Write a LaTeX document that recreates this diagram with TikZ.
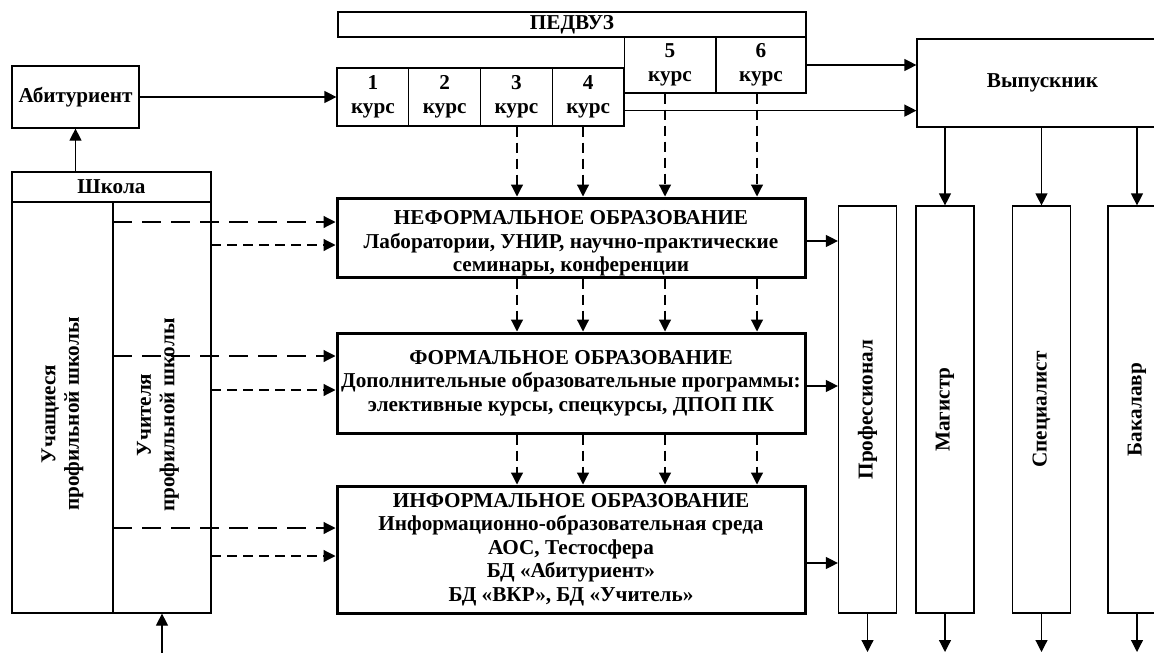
\documentclass[tikz,border=0pt]{standalone}
\usepackage{fontspec}
\setmainfont{Liberation Serif}
\usetikzlibrary{arrows.meta}

\begin{document}
\begin{tikzpicture}[
    x=1pt, y=-1pt,
    font=\fontsize{21.2}{23.5}\selectfont\bfseries,
    box/.style={draw=black, line width=1.2pt, inner sep=0pt, align=center},
    bigbox/.style={box, line width=3pt},
    arr/.style={line width=1.2pt, -{Triangle[length=12pt,width=12pt]}},
    ldash/.style={arr, dash pattern=on 19pt off 10pt},
    sdash/.style={arr, dash pattern=on 10pt off 6pt}
]
    \useasboundingbox (0,0) rectangle (1154,653);

    % педвуз и курсы
    \node[box, minimum width=468, minimum height=25] (vuz) at (572,24.5) {ПЕДВУЗ};
    \foreach \k in {1,...,4} {
        \node[box, minimum width=71.75, minimum height=58] (k\k) at ({337+71.75*(\k-0.5)},97) {\k\\курс};
    }
    \node[box, minimum width=91, minimum height=56] (k5) at (670,65) {5\\курс};
    \node[box, minimum width=90, minimum height=56] (k6) at (761,65) {6\\курс};

    \node[box, minimum width=127, minimum height=62] (abit) at (75.5,97) {Абитуриент};
    \node[box, minimum width=251, minimum height=88] (vyp) at (1042.5,83) {Выпускник};

    % школа
    \node[box, minimum width=199, minimum height=441] (shkola) at (111.5,392.5) {};
    \node[box, minimum width=199, minimum height=30] (shkhead) at (111.5,187) {Школа};
    \coordinate (mid) at (113,613);
    \draw[line width=1.2pt] (shkhead.south -| mid) -- (mid);
    \node[rotate=90, align=center] (uch) at (62.5,414) {Учащиеся\\профильной школы};
    \node[rotate=90, align=center] (uchit) at (158,415) {Учителя\\профильной школы};

    % формы образования
    \node[bigbox, minimum width=468, minimum height=79] (nef) at (571,237.5)
        {\rule{0pt}{26pt}НЕФОРМАЛЬНОЕ ОБРАЗОВАНИЕ\\Лаборатории, УНИР, научно-практические\\семинары, конференции};
    \node[bigbox, minimum width=468, minimum height=100] (form) at (571,383)
        {ФОРМАЛЬНОЕ ОБРАЗОВАНИЕ\\Дополнительные образовательные программы:\\элективные курсы, спецкурсы, ДПОП ПК};
    \node[bigbox, minimum width=468, minimum height=127] (inf) at (571,549.5)
        {ИНФОРМАЛЬНОЕ ОБРАЗОВАНИЕ\\Информационно-образовательная среда\\АОС, Тестосфера\\БД «Абитуриент»\\БД «ВКР», БД «Учитель»};

    % выпускники
    \foreach \n/\x/\t in {prof/867.5/Профессионал, mag/945/Магистр, spec/1041.5/Специалист, bak/1137/Бакалавр} {
        \node[box, minimum width=58, minimum height=407] (\n) at (\x,409.5) {\rotatebox{90}{\t}};
    }

    % связи
    \draw[arr] (shkola.north -| abit.south) -- (abit.south);
    \draw[arr] (abit) -- (k1);
    \draw[arr] (k6) -- (k6 -| vyp.west);
    \path (k4.south east) ++(0,-16) coordinate (k4-r);
    \draw[arr] (k4-r) -- (k4-r -| vyp.west);
    \foreach \n in {mag,spec,bak} {
        \draw[arr] (vyp.south -| \n.north) -- (\n.north);
    }
    \coordinate (bot) at (0,652);
    \foreach \n in {prof,mag,spec,bak} {
        \draw[arr] (\n.south) -- (\n.south |- bot);
    }
    \coordinate (vh) at (162,653);
    \draw[arr] (vh) -- (vh |- shkola.south);

    \foreach \b/\dy in {nef/3.5, form/3, inf/13.5} {
        \path (\b.east) ++(0,\dy) coordinate (\b-r);
        \draw[arr] (\b-r) -- (\b-r -| prof.west);
    }
    \foreach \b/\ya/\yb in {nef/222/245, form/356/390, inf/528/556} {
        \coordinate (\b-l) at (113,\ya);
        \coordinate (\b-s) at (211,\yb);
        \draw[ldash] (\b-l) -- (\b-l -| \b.west);
        \draw[sdash] (\b-s) -- (\b-s -| \b.west);
    }
    \foreach \x/\k [count=\i] in {517/k3, 583/k4, 665/k5, 757/k6} {
        \coordinate (c\i) at (\x,0);
        \draw[sdash] (\k.south -| c\i) -- (nef.north -| c\i);
        \draw[sdash] (nef.south -| c\i) -- (form.north -| c\i);
        \draw[sdash] (form.south -| c\i) -- (inf.north -| c\i);
    }
\end{tikzpicture}
\end{document}
